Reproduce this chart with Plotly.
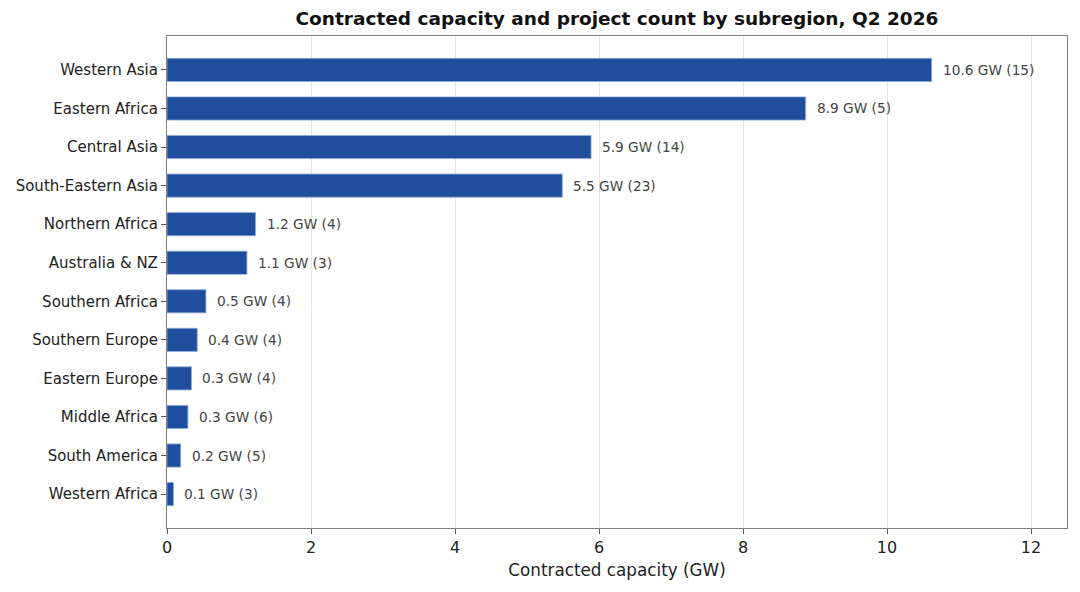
import plotly.graph_objects as go

# subregions, top to bottom
regions = ["Western Asia", "Eastern Africa", "Central Asia", "South-Eastern Asia",
           "Northern Africa", "Australia & NZ", "Southern Africa", "Southern Europe",
           "Eastern Europe", "Middle Africa", "South America", "Western Africa"]
capacity_gw = [10.62, 8.87, 5.89, 5.49, 1.23, 1.11, 0.54, 0.42, 0.34, 0.29, 0.19, 0.09]
projects = [15, 5, 14, 23, 4, 3, 4, 4, 4, 6, 5, 3]
x_ticks = [0, 2, 4, 6, 8, 10, 12]

FONT = "DejaVu Sans"
BAR = "#1f4e9c"

fig = go.Figure(go.Bar(
    x=capacity_gw,
    y=regions,
    orientation="h",
    width=0.6,
    marker=dict(color=BAR, line=dict(color="#8fa9d6", width=0.8)),
    hoverinfo="skip",
))

for v, n, r in zip(capacity_gw, projects, regions):
    fig.add_annotation(
        x=v, y=r, text=f"{v:.1f} GW ({n})",
        showarrow=False, xanchor="left", yanchor="middle", xshift=9,
        font=dict(family=FONT, size=13.7, color="#444444"),
    )

# page has an ~8px body offset, margins trimmed to compensate
fig.update_layout(
    width=1080, height=592,
    margin=dict(l=159, r=21, t=28, b=72),
    paper_bgcolor="white", plot_bgcolor="white",
    font=dict(family=FONT, color="#222222"),
    showlegend=False,
    title=dict(
        text="<b>Contracted capacity and project count by subregion, Q2 2026</b>",
        xref="paper", x=0.5, xanchor="center", y=1 - 11 / 592, yanchor="middle",
        font=dict(family=FONT, size=18.5, color="#111111"),
    ),
    xaxis=dict(
        range=[0, 12.5], tickvals=x_ticks, automargin=False,
        showgrid=True, gridcolor="#e6e6e6", gridwidth=1,
        zeroline=False,
        showline=True, linecolor="#808080", linewidth=1.2, mirror=True,
        ticks="outside", ticklen=5, tickcolor="#555555",
        tickfont=dict(family=FONT, size=16, color="#222222"),
        title=dict(text="Contracted capacity (GW)", standoff=7,
                   font=dict(family=FONT, size=16.8, color="#222222")),
    ),
    yaxis=dict(
        type="category", categoryorder="array", categoryarray=regions,
        range=[11.88, -0.88], automargin=False,
        showgrid=False, zeroline=False,
        showline=True, linecolor="#808080", linewidth=1.2, mirror=True,
        ticks="outside", ticklen=5, tickcolor="#555555",
        tickfont=dict(family=FONT, size=15, color="#222222"),
    ),
)

fig.write_html("out.html")
